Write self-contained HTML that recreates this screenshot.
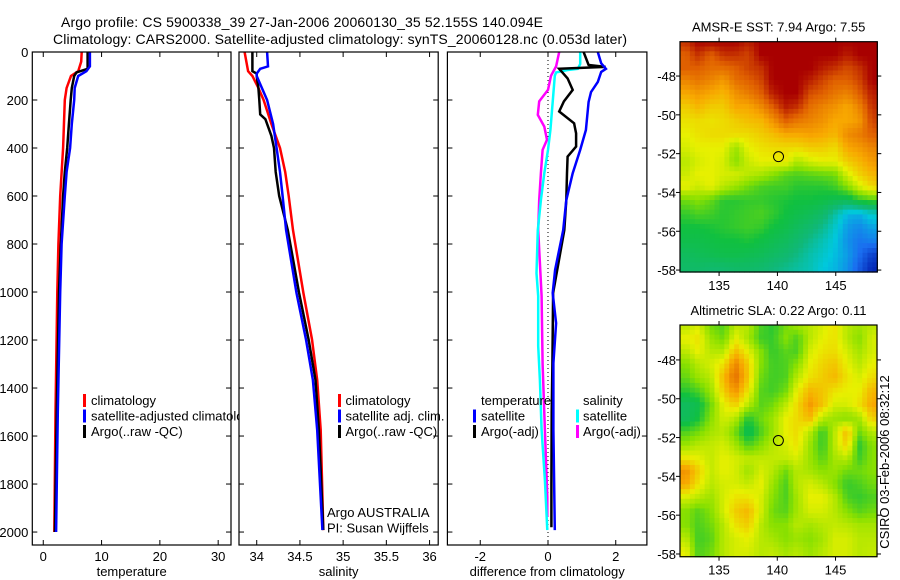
<!DOCTYPE html>
<html><head><meta charset="utf-8"><style>
html,body{margin:0;padding:0;background:#fff;}
svg{display:block;font-family:"Liberation Sans",sans-serif;}
</style></head><body>
<svg id="chart" width="900" height="580" viewBox="0 0 900 580" xmlns="http://www.w3.org/2000/svg">
<text x="61" y="27" font-size="14" textLength="482">Argo profile: CS 5900338_39 27-Jan-2006 20060130_35 52.155S 140.094E</text>
<text x="53" y="44" font-size="14" textLength="574">Climatology: CARS2000. Satellite-adjusted climatology: synTS_20060128.nc (0.053d later)</text>
<g id="g"></g>
</svg>
<script>
// ---------- profile data ----------
const tempClimDepth=[0,40,80,100,150,200,400,600,800,1000,1500,2000];
const tempClim=[6.6,6.5,6.0,4.75,4.0,3.7,3.4,2.9,2.6,2.4,2.1,1.9];
const tempSatDepth=[0,60,80,100,150,200,300,400,500,600,800,1000,1500,2000];
const tempSat=[8.0,8.0,7.4,6.0,5.4,5.3,4.9,4.6,4.0,3.7,3.15,2.9,2.5,2.2];
const tempArgoDepth=[0,70,85,100,150,200,300,400,500,600,800,1000,1500,2000];
const tempArgo=[7.6,7.6,5.7,5.3,4.9,4.7,4.4,4.1,3.7,3.4,3.0,2.7,2.3,2.0];

const salClimDepth=[0,80,100,150,200,300,400,500,600,742,1004,1198,1367,1575,1992];
const salClim=[33.86,33.90,33.95,34.02,34.08,34.17,34.27,34.33,34.37,34.42,34.54,34.64,34.70,34.74,34.77];
const salSatDepth=[0,60,70,90,100,150,200,300,400,500,600,742,1004,1198,1367,1575,1992];
const salSat=[34.12,34.13,34.04,34.0,34.0,34.06,34.12,34.19,34.23,34.27,34.30,34.34,34.46,34.57,34.65,34.70,34.76];
const salArgoDepth=[0,80,90,100,150,200,260,280,310,350,400,500,600,742,1004,1198,1367,1575,1992];
const salArgo=[33.95,33.95,34.0,34.0,34.02,34.03,34.04,34.10,34.13,34.17,34.20,34.22,34.26,34.36,34.49,34.60,34.68,34.72,34.77];

const dTempSatDepth=[0,47,70,83,125,167,208,325,408,505,617,742,908,1004,1130,1296,1575,1992];
const dTempSat=[1.47,1.57,1.71,1.57,1.47,1.27,1.2,1.12,0.95,0.73,0.54,0.45,0.21,0.14,0.24,0.16,0.16,0.2];
const dTempArgoDepth=[0,54,62,70,110,158,206,248,297,339,394,436,505,617,742,1004,1300,1500,1800,1980];
const dTempArgo=[1.05,1.2,1.7,0.33,0.58,0.73,0.47,0.33,0.77,0.83,0.83,0.58,0.56,0.54,0.48,0.15,0.13,0.11,0.1,0.1];
const dSalSatDepth=[0,50,70,75,85,99,208,325,408,505,617,742,922,1017,1225,1367,1575,1783,1992];
const dSalSat=[0.95,0.95,0.88,0.58,0.24,0.2,0.14,0.07,0,-0.11,-0.21,-0.3,-0.34,-0.29,-0.29,-0.24,-0.19,-0.09,-0.02];
const dSalArgoDepth=[0,60,99,158,206,262,311,366,408,505,617,742,1017,1300,1575,1854,1937];
const dSalArgo=[0.33,0.24,0.09,0,-0.26,-0.3,-0.11,-0.03,-0.16,-0.21,-0.26,-0.29,-0.19,-0.16,-0.09,-0.02,-0.02];

const depthTicks=[0,200,400,600,800,1000,1200,1400,1600,1800,2000];
const tempTicks=[0,10,20,30];
const salTicks=[34,34.5,35,35.5,36];
const salTickLabels=["34","34.5","35","35.5","36"];
const diffTicks=[-2,0,2];

// ---------- map data (level 0=blue ... 9=dark red); rows at gridLat, cols at gridLon ----------
const gridLat=[44.8,45.5,46.2,46.9,47.6,48.2,48.9,49.6,50.3,51.0,51.7,52.4,53.1,53.7,54.4,55.1,55.8,56.5,57.2,57.9];
const gridLon=[132.2,133.2,134.3,135.4,136.4,137.5,138.6,139.6,140.7,141.7,142.8,143.9,144.9,146.0,147.0,148.1];
const sstGrid=[
[9,9,9,9,9,9,9,9,9,9,9,9,9,9,9,9],
[9,9,9,9,9,9,9,9,9,9,9,9,9,9,9,9],
[8.5,9,9,9,9,8.7,9,9,9,9,9,9,9,9,9,9],
[8,8.5,8,8.5,8.5,8.3,9,9,9,9,9,9,9,8.7,9,9],
[8,8,7.8,7.8,8,8.3,8.5,9,9,9,9,8.7,8.5,8.2,8.5,9],
[7.5,7.7,7.5,7.2,7.8,8,8.3,9,9,9,8.7,8.3,8,8,8.3,9],
[7,7.2,7,6.8,7.3,7.6,8,8.7,9,9,8.2,8,7.7,7.5,8,8.7],
[6.5,6.8,6.5,6.5,7,7,7.4,8,8.7,8.5,7.8,7.5,7.3,7,7.5,8.5],
[6.2,6.3,6.2,6.3,6.5,6.7,6.8,7.3,8,7.7,7.5,7.3,7,7,7.2,8.3],
[6,6.2,6.3,6.3,6.3,6.3,6.5,6.7,7,7,7.1,7,6.8,7.4,7.6,8],
[5.8,6,6,6,5.2,6,6.2,6.3,6.3,6.3,6.5,6.5,6.3,7,7.2,7.5],
[5.5,5.8,6,5.8,5,5.7,6,6,6.1,5.4,5.8,6,6,6.5,6.8,7.2],
[5.7,6,6,5.8,5.8,5.5,5.3,5,4.6,4.5,4.6,4.7,4.8,5.8,6.4,6.8],
[6,5.7,6,5.5,5.2,4.8,4.5,4.4,4.4,4.2,4.2,4.2,4.4,5,5.8,6.4],
[4.8,5,4.7,4.2,4.2,4.3,4.3,4.2,4.1,4,4,3.9,3.7,3.6,4.2,4.5],
[4.3,4.5,4.4,4.2,4.3,4.4,4.5,4.3,4,3.8,3.6,3.3,2.6,1.8,1.7,2.2],
[4,4,4.1,4.2,4.3,4.4,4.3,4,3.8,3.5,3.2,2.8,2.2,1.5,1.3,1.6],
[3.8,3.8,3.9,4,4,4.1,3.9,3.7,3.5,3.2,2.8,2.4,2,1.4,1.1,1.2],
[3.5,3.6,3.7,3.8,3.8,3.7,3.6,3.4,3.2,2.9,2.5,2.2,1.9,1.5,1,0.5],
[3.3,3.3,3.2,3.2,3.3,3.3,3.2,3,2.8,2.6,2.4,2,1.8,1.4,0.8,0.2]];
const slaGrid=[
[4.5,5,4.5,4.2,5,5.5,4.5,3.5,4.5,5.5,5.5,6,5.8,5,5.5,5],
[5,5.5,4.5,4.2,5,5.5,4.5,3.8,4.5,5.5,5.3,5.8,6,5.3,5.5,5.3],
[5.5,5.8,4.8,4.5,5.5,5.5,4.5,4.2,4.8,5.3,5.5,5.8,6.2,5.5,5.3,5.5],
[6,6.2,5.2,4.8,6,5.3,4.4,4.3,5,4.5,5.5,6,6.2,5.5,5,5.8],
[5.5,6,5.5,5.5,6.8,6,5,4.3,4.6,4.5,5.8,6.2,6.3,5.8,5.3,5.8],
[5,5.5,5.8,6.2,7.5,6.5,5,4.4,4.5,5,6,6.4,6.6,6,5.5,6],
[4.7,5.2,5.5,6.8,7.8,6.6,4.8,4.4,4.5,5.5,6.2,6.5,6.8,6.2,5.8,6.3],
[4.2,4.5,5.2,6.5,7.3,6.2,4.6,4.4,4.8,6,6.8,6.6,6.2,6,6,6.8],
[3.5,3.8,4.8,6,6.5,5.5,4.6,4.8,5.5,6.3,7.2,6.6,5.8,5.8,6.2,7],
[3.5,4,5,5.8,5.5,4.2,4.8,5.2,6,6.3,6.8,5.5,5.2,5,5.3,6.5],
[4.5,4.8,5.3,5.5,4.8,3.6,4.5,5.2,6,6.3,5.5,4.3,5.5,6.8,4.8,5.5],
[5.2,5.5,5.6,5.8,5.3,4.5,5,5.5,5.8,6.2,5.2,4.3,5.5,6.5,4.2,5],
[6.2,6,5.6,6,5.8,5.6,5.6,5.6,5.6,5.8,5.2,4.6,5.3,5.5,4.4,5],
[7.3,6.5,5.6,6,5.8,5.2,5.8,5.5,4.8,5.5,5.3,5,5.2,4.8,4.8,5],
[7,6.2,5.5,5.8,5.8,5.6,6,5.2,4.5,5.5,5.8,5.5,5,4.3,4.5,4.8],
[5.8,5.5,5.2,5.8,6.2,6.2,5.8,5,4.5,5.3,6,6,5.5,4.5,4.3,4.5],
[5,4.6,5,5.8,6.5,6.8,5.8,4.8,4.6,5.3,5.8,5.8,5.5,5,4.6,4.8],
[5,4.5,4.8,5.5,6.2,6.5,5.5,5,5,5.5,5.3,5.5,5.6,5.5,5.3,5.3],
[5.5,4.4,4.6,5.5,5.8,6,5.5,5.3,5,5.2,5,5.3,5.8,5.8,5.5,5.5],
[6,4.5,4.8,5.5,5.8,5.8,5.5,5.6,5.3,5.5,5.2,5.5,5.8,5.8,5.5,5.6]];
const sstLon=[131.65,148.56], sstLat=[46.23,58.1];
const slaLon=[131.65,148.56], slaLat=[46.2,58.14];
const mapLonTicks=[135,140,145];
const mapLatTicks=[48,50,52,54,56,58];
const floatLon=140.094, floatLat=52.155;

const NS="http://www.w3.org/2000/svg";
const G=document.getElementById('g');
function mk(tag,attrs,parent){const e=document.createElementNS(NS,tag);for(const k in attrs)e.setAttribute(k,attrs[k]);(parent||G).appendChild(e);return e;}

const TOP=52,BOT=545,DMAX=2054;
const yD=d=>TOP+(BOT-TOP)*d/DMAX;
const panels=[
 {name:'temperature',x0:32.3,x1:231,lo:-1.88,hi:32.2,ticks:tempTicks,labels:tempTicks.map(String),title:'temperature'},
 {name:'salinity',x0:239,x1:438.2,lo:33.795,hi:36.1,ticks:salTicks,labels:salTickLabels,title:'salinity'},
 {name:'difference',x0:447.4,x1:646.9,lo:-2.97,hi:2.92,ticks:diffTicks,labels:diffTicks.map(String),title:'difference from climatology'}];
panels.forEach(p=>{p.sx=v=>p.x0+(p.x1-p.x0)*(v-p.lo)/(p.hi-p.lo);});

function line(p,depths,vals,color,w,name){
  const pts=depths.map((d,i)=>p.sx(vals[i]).toFixed(1)+','+yD(d).toFixed(1)).join(' ');
  const e=mk('polyline',{points:pts,fill:'none',stroke:color,'stroke-width':w,'stroke-linejoin':'miter','clip-path':'url(#clip-'+p.name+')'});
  
  
}
const defs=mk('defs',{});
panels.forEach(p=>{const c=mk('clipPath',{id:'clip-'+p.name},defs);mk('rect',{x:p.x0,y:TOP,width:p.x1-p.x0,height:BOT-TOP},c);});

function frame(p,i){
  const bg=mk('rect',{x:p.x0,y:TOP,width:p.x1-p.x0,height:BOT-TOP,fill:'#fff'});
  
  
  depthTicks.forEach(d=>{
    const y=yD(d);
    mk('line',{x1:p.x0,x2:p.x0+5,y1:y,y2:y,stroke:'#000'});
    mk('line',{x1:p.x1,x2:p.x1-5,y1:y,y2:y,stroke:'#000'});
    if(i===0){const t=mk('text',{x:p.x0-4,y:y+5,'font-size':13,'text-anchor':'end'});t.textContent=d;
      
      }
  });
  p.ticks.forEach((v,k)=>{
    const x=p.sx(v);
    mk('line',{x1:x,x2:x,y1:BOT,y2:BOT-5,stroke:'#000'});
    mk('line',{x1:x,x2:x,y1:TOP,y2:TOP+5,stroke:'#000'});
    const t=mk('text',{x:x,y:561,'font-size':13,'text-anchor':'middle'});t.textContent=p.labels[k];
    
    
  });
  const tt=mk('text',{x:(p.x0+p.x1)/2,y:576,'font-size':13,'text-anchor':'middle'});tt.textContent=p.title;
  
  
}
function border(p){mk('rect',{x:p.x0,y:TOP,width:p.x1-p.x0,height:BOT-TOP,fill:'none',stroke:'#000','stroke-width':1.2});}
function legend(items,bx,tx,y0){
  items.forEach((it,k)=>{
    const y=y0+k*15.5;
    if(it.c){mk('rect',{x:bx,y:y-6,width:3,height:13,fill:it.c});}
    const t=mk('text',{x:tx,y:y+5,'font-size':13});t.textContent=it.t;
    
    
  });
}
let p=panels[0];frame(p,0);
line(p,tempClimDepth,tempClim,'#ff0000',2.5,'temp-climatology-line');
line(p,tempArgoDepth,tempArgo,'#000',2.5,'temp-argo-line');
line(p,tempSatDepth,tempSat,'#0000ff',2.5,'temp-satellite-line');
legend([{c:'#ff0000',t:'climatology'},{c:'#0000ff',t:'satellite-adjusted climatology'},{c:'#000',t:'Argo(..raw -QC)'}],83,91,400);
border(p);
p=panels[1];frame(p,1);
line(p,salClimDepth,salClim,'#ff0000',2.5,'sal-climatology-line');
line(p,salArgoDepth,salArgo,'#000',2.5,'sal-argo-line');
line(p,salSatDepth,salSat,'#0000ff',2.5,'sal-satellite-line');
legend([{c:'#ff0000',t:'climatology'},{c:'#0000ff',t:'satellite adj. clim.'},{c:'#000',t:'Argo(..raw -QC)'}],338,345.5,400);
legend([{t:'Argo AUSTRALIA'},{t:'PI: Susan Wijffels'}],0,327,512);
border(p);
p=panels[2];frame(p,2);
const zx=p.sx(0);
const zl=mk('line',{x1:zx,x2:zx,y1:TOP,y2:BOT,stroke:'#000','stroke-dasharray':'1,3'});


line(p,dSalArgoDepth,dSalArgo,'#ff00ff',2.5,'diff-sal-argo-line');
line(p,dSalSatDepth,dSalSat,'#00ffff',2.5,'diff-sal-satellite-line');
line(p,dTempArgoDepth,dTempArgo,'#000',2.5,'diff-temp-argo-line');
line(p,dTempSatDepth,dTempSat,'#0000ff',2.5,'diff-temp-satellite-line');
legend([{t:'temperature'},{c:'#0000ff',t:'satellite'},{c:'#000',t:'Argo(-adj)'}],473,481,400);
legend([{t:'salinity'},{c:'#00ffff',t:'satellite'},{c:'#ff00ff',t:'Argo(-adj)'}],576,583,400);
border(p);

// ---------- maps ----------
const stops=[[0,24,168],[26,110,240],[0,200,220],[16,184,120],[16,192,64],[136,224,0],[232,240,0],[248,168,0],[224,96,0],[168,0,0]];
function col(v){v=Math.max(0,Math.min(9,v));const i=Math.min(8,Math.floor(v)),f=v-i;const a=stops[i],b=stops[i+1];
  return 'rgb('+a.map((c,k)=>Math.round(c+(b[k]-c)*f)).join(',')+')';}
function interp(arr,x){ // fractional index for coordinate x in ascending arr
  if(x<=arr[0])return 0;const n=arr.length-1;if(x>=arr[n])return n;
  for(let i=0;i<n;i++){if(x<=arr[i+1])return i+(x-arr[i])/(arr[i+1]-arr[i]);}return n;}
function sample(grid,lat,lon){
  const fi=interp(gridLat,lat),fj=interp(gridLon,lon);
  const i0=Math.floor(fi),j0=Math.floor(fj),i1=Math.min(i0+1,grid.length-1),j1=Math.min(j0+1,grid[0].length-1);
  const a=fi-i0,b=fj-j0;
  return grid[i0][j0]*(1-a)*(1-b)+grid[i0][j1]*(1-a)*b+grid[i1][j0]*a*(1-b)+grid[i1][j1]*a*b;}
function drawMap(grid,lonR,latR,box,title,name){
  const [X0,X1,Y0,Y1]=box;
  const sx=l=>X0+(X1-X0)*(l-lonR[0])/(lonR[1]-lonR[0]);
  const sy=l=>Y0+(Y1-Y0)*(l-latR[0])/(latR[1]-latR[0]);
  const NX=40,NY=48;const cw=(X1-X0)/NX,ch=(Y1-Y0)/NY;
  for(let i=0;i<NY;i++)for(let j=0;j<NX;j++){
    const lat=latR[0]+(latR[1]-latR[0])*(i+0.5)/NY, lon=lonR[0]+(lonR[1]-lonR[0])*(j+0.5)/NX;
    const c=mk('rect',{x:(X0+j*cw).toFixed(2),y:(Y0+i*ch).toFixed(2),width:(cw+0.6).toFixed(2),height:(ch+0.6).toFixed(2),fill:col(sample(grid,lat,lon))});
    
    
  }
  mk('rect',{x:X0,y:Y0,width:X1-X0,height:Y1-Y0,fill:'none',stroke:'#000','stroke-width':1.2});
  mapLonTicks.forEach(l=>{const x=sx(l);
    mk('line',{x1:x,x2:x,y1:Y0,y2:Y0-4,stroke:'#000'});mk('line',{x1:x,x2:x,y1:Y1,y2:Y1+4,stroke:'#000'});
    const t=mk('text',{x:x,y:Y1+18,'font-size':13,'text-anchor':'middle'});t.textContent=l;
    
    });
  mapLatTicks.forEach(l=>{const y=sy(l);
    mk('line',{x1:X0,x2:X0-4,y1:y,y2:y,stroke:'#000'});mk('line',{x1:X1,x2:X1+4,y1:y,y2:y,stroke:'#000'});
    const t=mk('text',{x:X0-4,y:y+5,'font-size':13,'text-anchor':'end'});t.textContent='-'+l;
    
    });
  const c=mk('circle',{cx:sx(floatLon),cy:sy(floatLat),r:5,fill:'none',stroke:'#000','stroke-width':1});
  
  
  const tt=mk('text',{x:(X0+X1)/2,y:Y0-10,'font-size':13,'text-anchor':'middle'});tt.textContent=title;
  
  
}
drawMap(sstGrid,sstLon,sstLat,[680,877.3,41.7,272],'AMSR-E SST: 7.94 Argo: 7.55','sst-map');
drawMap(slaGrid,slaLon,slaLat,[680,877,325,556.7],'Altimetric SLA: 0.22 Argo: 0.11','sla-map');
const cs=mk('text',{x:0,y:0,'font-size':13,'text-anchor':'middle',transform:'translate(889,462) rotate(-90)'});
cs.textContent='CSIRO 03-Feb-2006 08:32:12';


</script>
</body></html>
